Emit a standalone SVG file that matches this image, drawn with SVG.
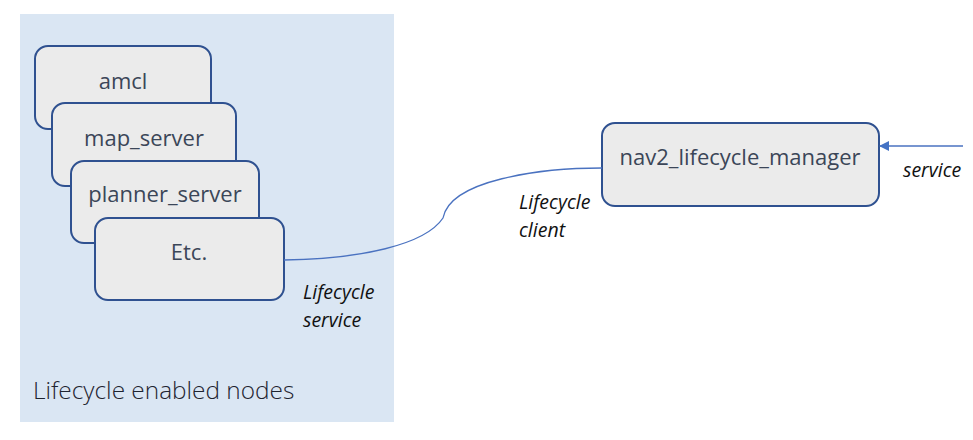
<svg xmlns="http://www.w3.org/2000/svg" width="973" height="440" viewBox="0 0 973 440">
<defs>
<style>
.node rect{fill:#EBEBEB;stroke:#2F5190;stroke-width:2}
.ntext{font-family:"Open Sans","Noto Sans",sans-serif;font-size:22px;fill:#3B4658;text-anchor:middle}
.lab{font-family:"Open Sans","Noto Sans",sans-serif;font-size:19.5px;font-style:italic;fill:#111}
.conn{fill:none;stroke:#4A72C0;stroke-width:1.3}
</style>
<marker id="arr" markerWidth="10" markerHeight="10" refX="9" refY="5" orient="auto" markerUnits="userSpaceOnUse">
<path d="M0,0 L10,5 L0,10 z" fill="#4472C4"/>
</marker>
</defs>
<rect width="973" height="440" fill="#fff"/>
<g id="panel">
<rect x="20" y="14" width="374" height="408" fill="#DAE6F3"/>
<text x="33" y="399" font-family="'Open Sans','Noto Sans',sans-serif" font-size="24.4" font-weight="300" fill="#1E2430">Lifecycle enabled nodes</text>
</g>
<g id="amcl" class="node">
<rect x="35" y="46" width="176" height="83" rx="13"/>
<text class="ntext" x="123" y="89">amcl</text>
</g>
<g id="map_server" class="node">
<rect x="52" y="103" width="184" height="83" rx="13"/>
<text class="ntext" x="144" y="146">map_server</text>
</g>
<g id="planner_server" class="node">
<rect x="71" y="161" width="188" height="82" rx="13"/>
<text class="ntext" x="165" y="202">planner_server</text>
</g>
<g id="etc" class="node">
<rect x="95" y="218" width="189" height="82" rx="13"/>
<text class="ntext" x="189" y="260">Etc.</text>
</g>
<g id="nav2_lifecycle_manager" class="node">
<rect x="602" y="123" width="277" height="83" rx="13"/>
<text class="ntext" x="740" y="165">nav2_lifecycle_manager</text>
</g>
<g id="connectors">
<path class="conn" d="M284,260 C360,259 425,245 443,218 C450,180 540,168 602,168"/>
<line class="conn" x1="963" y1="146" x2="880" y2="146" marker-end="url(#arr)"/>
</g>
<g id="labels">
<text class="lab" x="303" y="299">Lifecycle</text>
<text class="lab" x="303" y="327">service</text>
<text class="lab" x="519" y="209">Lifecycle</text>
<text class="lab" x="519" y="237">client</text>
<text class="lab" x="903" y="177">service</text>
</g>
</svg>
